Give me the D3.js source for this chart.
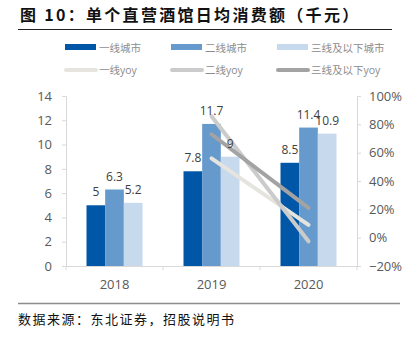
<!DOCTYPE html>
<html>
<head>
<meta charset="utf-8">
<script src="https://cdn.jsdelivr.net/npm/d3@7"></script>
<style>
  body { margin: 0; background: #fff; }
  text { font-family: "Open Sans", "Noto Sans CJK SC", sans-serif; }
</style>
</head>
<body>
<script>
var years = ["2018", "2019", "2020"];
var barSeries = ["一线城市", "二线城市", "三线及以下城市"];
var barValues = [
  [5, 7.8, 8.5],
  [6.3, 11.7, 11.4],
  [5.2, 9, 10.9]
];
var lineSeries = ["一线yoy", "二线yoy", "三线及以下yoy"];
var lineYears = ["2019", "2020"];
var lineValues = [
  [0.56, 0.09],
  [0.857, -0.026],
  [0.73, 0.21]
];
var leftTicks = [0, 2, 4, 6, 8, 10, 12, 14];
var rightTicks = [-0.2, 0, 0.2, 0.4, 0.6, 0.8, 1.0];

var barColors = ["#0056a7", "#6699cc", "#c6d9ed"];
var lineColors = ["#e6e4de", "#cbcbcb", "#a3a3a3"];

var width = 410, height = 337;
var plotLeft = 66, plotRight = 357, plotTop = 96, plotBottom = 266;

var svg = d3.select("body").append("svg")
  .attr("width", width)
  .attr("height", height);

// title
svg.append("text")
  .attr("x", 20).attr("y", 21)
  .style("font-family", "'Noto Sans CJK SC', sans-serif")
  .style("font-size", "16px")
  .style("font-weight", "bold")
  .style("letter-spacing", "2.3px")
  .attr("fill", "#111")
  .text("图 10：单个直营酒馆日均消费额（千元）");
svg.append("line")
  .attr("x1", 18).attr("x2", 392).attr("y1", 29.5).attr("y2", 29.5)
  .attr("stroke", "#222").attr("stroke-width", 1.2);

var x = d3.scaleBand().domain(years).range([plotLeft, plotRight]);
var xSub = d3.scaleBand().domain(d3.range(barSeries.length))
  .range([(x.bandwidth() - 56) / 2, (x.bandwidth() + 56) / 2]);
var yLeft = d3.scaleLinear().domain([0, 14]).range([plotBottom, plotTop]);
var yRight = d3.scaleLinear().domain([-0.2, 1.0]).range([plotBottom, plotTop]);

// axes
var axisColor = "#d9d9d9";
var gLeft = svg.append("g").attr("transform", "translate(" + plotLeft + ",0)")
  .call(d3.axisLeft(yLeft).tickValues(leftTicks).tickSize(4).tickPadding(10));
var gRight = svg.append("g").attr("transform", "translate(" + plotRight + ",0)")
  .call(d3.axisRight(yRight).tickValues(rightTicks).tickSize(4).tickPadding(8)
    .tickFormat(d3.format(".0%")));
var gBottom = svg.append("g").attr("transform", "translate(0," + plotBottom + ")")
  .call(d3.axisBottom(x).tickSize(0).tickPadding(14));

[gLeft, gRight].forEach(function (g) {
  g.select(".domain").attr("stroke", axisColor);
  g.selectAll(".tick line").attr("stroke", axisColor);
  g.selectAll(".tick text").attr("fill", "#595959")
    .style("font-size", "13px").style("font-family", "'Open Sans', sans-serif");
});
gBottom.select(".domain").attr("stroke", axisColor);
gBottom.selectAll(".tick text").attr("fill", "#595959")
  .style("font-size", "13px").style("font-family", "'Open Sans', sans-serif");
// category separators on x axis
gBottom.selectAll(".sep").data(years.concat(["end"])).enter().append("line")
  .attr("x1", function (d, i) { return plotLeft + i * x.bandwidth(); })
  .attr("x2", function (d, i) { return plotLeft + i * x.bandwidth(); })
  .attr("y1", 0).attr("y2", 4)
  .attr("stroke", axisColor);

// bars
var groups = svg.selectAll(".grp").data(barSeries).enter().append("g");
groups.each(function (s, si) {
  var g = d3.select(this);
  g.selectAll("rect").data(barValues[si]).enter().append("rect")
    .attr("x", function (d, i) { return x(years[i]) + xSub(si); })
    .attr("y", function (d) { return yLeft(d); })
    .attr("width", xSub.bandwidth())
    .attr("height", function (d) { return plotBottom - yLeft(d); })
    .attr("fill", barColors[si]);
});

// yoy lines
var line = d3.line()
  .x(function (d, i) { return x(lineYears[i]) + x.bandwidth() / 2; })
  .y(function (d) { return yRight(d); });
svg.selectAll(".yoy").data(lineValues).enter().append("path")
  .attr("d", line)
  .attr("fill", "none")
  .attr("stroke", function (d, i) { return lineColors[i]; })
  .attr("stroke-width", 4)
  .attr("stroke-linecap", "round");

// bar labels
barSeries.forEach(function (s, si) {
  svg.selectAll(".lbl" + si).data(barValues[si]).enter().append("text")
    .attr("x", function (d, i) { return x(years[i]) + xSub(si) + xSub.bandwidth() / 2; })
    .attr("y", function (d) { return yLeft(d) - 9; })
    .attr("text-anchor", "middle")
    .attr("fill", "#404040")
    .style("font-size", "12px")
    .text(function (d) { return d; });
});

// legend
var legX = [65, 171, 277];
var leg = svg.append("g").style("font-family", "'Noto Sans CJK SC', sans-serif");
barSeries.forEach(function (s, i) {
  leg.append("rect").attr("x", legX[i]).attr("y", 44).attr("width", 31).attr("height", 6)
    .attr("fill", barColors[i]);
  leg.append("text").attr("x", legX[i] + 34).attr("y", 51.5)
    .attr("fill", "#8c8c8c").style("font-size", "10.5px").text(s);
});
lineSeries.forEach(function (s, i) {
  leg.append("line").attr("x1", legX[i] + 1).attr("x2", legX[i] + 31)
    .attr("y1", 70).attr("y2", 70)
    .attr("stroke", lineColors[i]).attr("stroke-width", 4).attr("stroke-linecap", "round");
  leg.append("text").attr("x", legX[i] + 34).attr("y", 73.5)
    .attr("fill", "#8c8c8c").style("font-size", "10.5px").text(s);
});

// source
svg.append("line")
  .attr("x1", 18).attr("x2", 400).attr("y1", 303.5).attr("y2", 303.5)
  .attr("stroke", "#8c8c8c").attr("stroke-width", 1.5);
svg.append("text")
  .attr("x", 18).attr("y", 324)
  .style("font-family", "'Noto Sans CJK SC', sans-serif")
  .style("font-size", "13px")
  .style("letter-spacing", "1.5px")
  .attr("fill", "#111")
  .text("数据来源：东北证券，招股说明书");
</script>
</body>
</html>
